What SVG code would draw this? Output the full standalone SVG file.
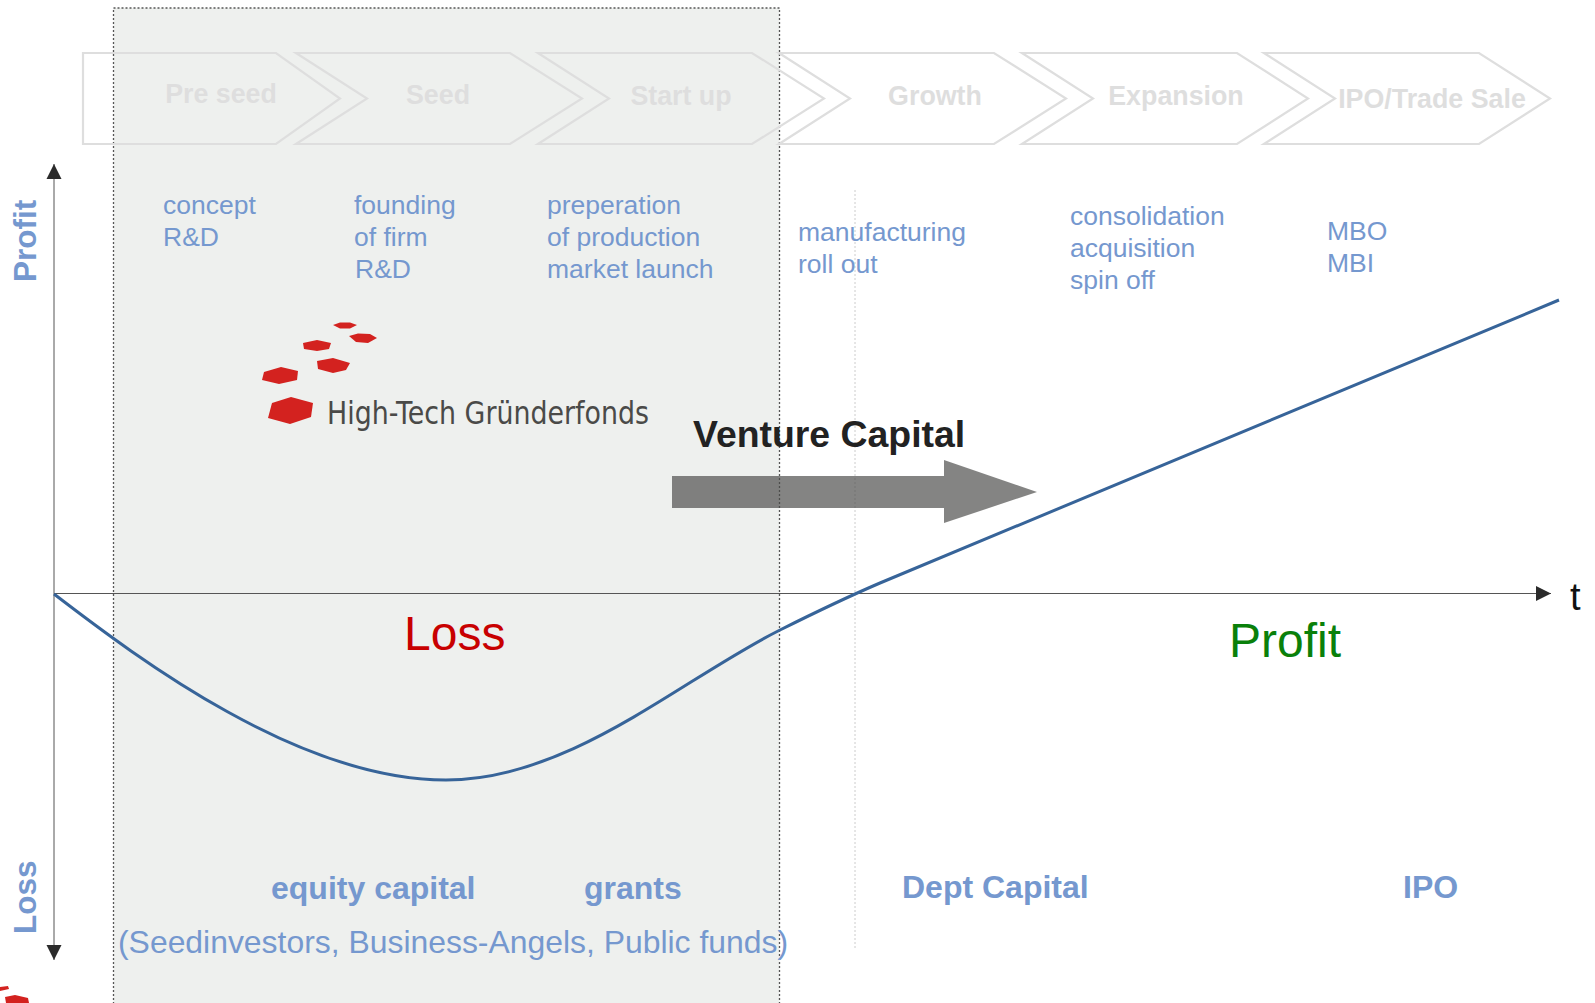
<svg xmlns="http://www.w3.org/2000/svg" width="1595" height="1003" viewBox="0 0 1595 1003">
<style>
text{font-family:"Liberation Sans",Arial,sans-serif}
.chev{fill:none;stroke:#dedede;stroke-width:2.200}
.cl{font-size:26.800px;font-weight:bold;fill:#dedede;text-anchor:middle}
.b{font-size:26.500px;fill:#7598cf}
.bb{font-size:32px;font-weight:bold;fill:#7598cf}
.ax{stroke:#555;stroke-width:1;fill:none}
.hex{fill:#d3221f}
</style>
<defs>
<marker id="ah" markerUnits="userSpaceOnUse" markerWidth="16" markerHeight="16" refX="15" refY="8" orient="auto"><path d="M0,0.500L15,8L0,15.500Z" fill="#2b2b2b"/></marker>
</defs>
<g id="phase-band"><rect x="113.500" y="8" width="666" height="1000" fill="#eef0ee" stroke="#555" stroke-width="1.300" stroke-dasharray="2 2"/></g>
<g id="divider"><path d="M855 190V950" stroke="#ccc" stroke-width="1" stroke-dasharray="2 2" fill="none"/></g>
<g id="chevron-preseed"><path class="chev" d="M83 53H276L340 98.500L276 144H83Z"/><text class="cl" x="221" y="103">Pre seed</text></g>
<g id="chevron-seed"><path class="chev" d="M296 53H510L582 98.500L510 144H296L367 98.500Z"/><text class="cl" x="438" y="104">Seed</text></g>
<g id="chevron-startup"><path class="chev" d="M538 53H752L824 98.500L752 144H538L609 98.500Z"/><text class="cl" x="681" y="105">Start up</text></g>
<g id="chevron-growth"><path class="chev" d="M779 53H994L1066 98.500L994 144H779L850 98.500Z"/><text class="cl" x="935" y="105">Growth</text></g>
<g id="chevron-expansion"><path class="chev" d="M1022 53H1237L1308 98.500L1237 144H1022L1093 98.500Z"/><text class="cl" x="1176" y="105">Expansion</text></g>
<g id="chevron-ipo"><path class="chev" d="M1264 53H1479L1550 98.500L1479 144H1264L1335 98.500Z"/><text class="cl" x="1432" y="108">IPO/Trade Sale</text></g>
<g id="logo">
<path class="hex" d="M333 325L340 322.500L350 322.500L357 325L350 328.500L340 328.500Z"/>
<path class="hex" d="M349 336L358 333.500L370 334L377 338L368 343L356 342Z"/>
<path class="hex" d="M303 343L317 340L331 343L329 349L317 351L304 349Z"/>
<path class="hex" d="M317 361L333 358L350 363L346 370L333 373L318 369Z"/>
<path class="hex" d="M264 372L281 367L298 371L297 380L279 384L262 380Z"/>
<path class="hex" d="M272 403L291 397L313 403L311 417L290 424L268 418Z"/>
<text x="327" y="424" font-size="32" textLength="322" lengthAdjust="spacingAndGlyphs" style="font-family:'DejaVu Sans',sans-serif" fill="#4a4a48">High-Tech Gründerfonds</text>
<path class="hex" d="M0 987L8 986L9 989L0 991Z"/>
<path class="hex" d="M5 997L15 995L28 998L29 1003H6Z"/>
</g>
<g id="connectors">
<path class="ax" d="M54 594V164" marker-end="url(#ah)"/>
<path class="ax" d="M54 594V960" marker-end="url(#ah)"/>
<path class="ax" d="M54 593.500H1551" marker-end="url(#ah)"/>
<path d="M54 594C140 660 300 780 446 780C570 780 680 680 780 630C815 612.500 845 598 880 583L1559 300" fill="none" stroke="#376499" stroke-width="3"/>
<path d="M672 476H944V460L1037 492L944 523V508H672Z" fill="#4a4a48" fill-opacity=".68"/>
</g>
<g id="labels">
<text x="163" y="214" class="b">concept</text><text x="163" y="246" class="b">R&amp;D</text>
<text x="354" y="214" class="b">founding</text><text x="354" y="246" class="b">of firm</text><text x="355" y="278" class="b">R&amp;D</text>
<text x="547" y="214" class="b">preperation</text><text x="547" y="246" class="b">of production</text><text x="547" y="278" class="b">market launch</text>
<text x="798" y="241" class="b">manufacturing</text><text x="798" y="273" class="b">roll out</text>
<text x="1070" y="225" class="b">consolidation</text><text x="1070" y="257" class="b">acquisition</text><text x="1070" y="289" class="b">spin off</text>
<text x="1327" y="240" class="b">MBO</text><text x="1327" y="272" class="b">MBI</text>
<text x="693" y="447" font-size="37.400" font-weight="bold" fill="#222">Venture Capital</text>
<text x="404" y="650" font-size="48" fill="#c80000">Loss</text>
<text x="1229" y="657" font-size="48" fill="#0a800a">Profit</text>
<text x="1570" y="610" font-size="38" fill="#111">t</text>
<text x="271" y="899" class="bb">equity capital</text>
<text x="584" y="899" class="bb">grants</text>
<text x="118" y="953" font-size="31.900" fill="#7598cf">(Seedinvestors, Business-Angels, Public funds)</text>
<text x="902" y="898" class="bb">Dept Capital</text>
<text x="1403" y="898" class="bb">IPO</text>
<text transform="translate(36 282) rotate(-90)" font-size="31.500" font-weight="bold" fill="#7598cf">Profit</text>
<text transform="translate(36 934) rotate(-90)" font-size="31.500" font-weight="bold" fill="#7598cf">Loss</text>
</g>
</svg>
